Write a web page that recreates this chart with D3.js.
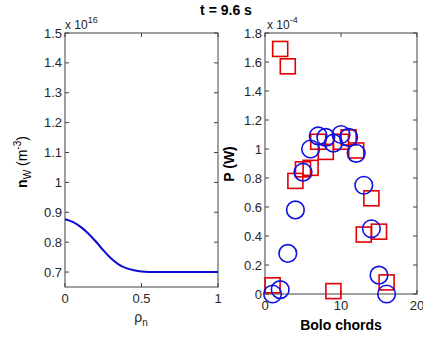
<!DOCTYPE html>
<html><head><meta charset="utf-8">
<script src="https://cdn.jsdelivr.net/npm/d3@7"></script>
<style>body{margin:0;background:#fff}svg{display:block}</style>
</head><body><svg id="c" width="423" height="337"></svg>
<script>
const rho = [0,0.05,0.1,0.15,0.2,0.25,0.3,0.35,0.4,0.45,0.5,0.6,0.7,0.8,0.9,1.0];
const nW = [0.877,0.868,0.852,0.83,0.803,0.773,0.746,0.726,0.713,0.706,0.702,0.700,0.700,0.700,0.700,0.700];
const chords = [1,2,3,4,5,6,7,8,9,10,11,12,13,14,15,16];
const pMeasured = [0.00,0.03,0.28,0.58,0.84,1.00,1.09,1.08,1.04,1.10,1.08,0.97,0.75,0.45,0.13,0.00];
const pModel = [0.06,1.69,1.57,0.78,0.86,0.87,1.05,0.98,0.02,1.05,1.08,0.99,0.41,0.66,0.43,0.08];
const leftYTicks = [0.7,0.8,0.9,1,1.1,1.2,1.3,1.4,1.5];
const leftXTicks = [0,0.5,1];
const rightYTicks = [0,0.2,0.4,0.6,0.8,1,1.2,1.4,1.6,1.8];
const rightXTicks = [0,10,20];

const svg = d3.select("#c");
const font = "Arial, 'Liberation Sans', sans-serif";
const tc = "#262626";

function axesBox(g, x, y, xt, yt, fmtY){
  const [x0,x1]=x.range(), [y0,y1]=y.range();
  g.append("rect").attr("x",x0).attr("y",y1).attr("width",x1-x0).attr("height",y0-y1)
    .attr("fill","none").attr("stroke","#404040").attr("stroke-width",1);
  const tl=4;
  xt.forEach(v=>{
    const px=x(v);
    g.append("line").attr("x1",px).attr("x2",px).attr("y1",y0).attr("y2",y0-tl).attr("stroke","#404040");
    g.append("line").attr("x1",px).attr("x2",px).attr("y1",y1).attr("y2",y1+tl).attr("stroke","#404040");
    g.append("text").attr("x",px).attr("y",y0+16).attr("text-anchor","middle")
      .attr("font-family",font).attr("font-size",13).attr("fill",tc).text(d3.format("~g")(v));
  });
  yt.forEach(v=>{
    const py=y(v);
    g.append("line").attr("x1",x0).attr("x2",x0+tl).attr("y1",py).attr("y2",py).attr("stroke","#404040");
    g.append("line").attr("x1",x1).attr("x2",x1-tl).attr("y1",py).attr("y2",py).attr("stroke","#404040");
    g.append("text").attr("x",x0-3).attr("y",py+4.5).attr("text-anchor","end")
      .attr("font-family",font).attr("font-size",13).attr("fill",tc).text(fmtY(v));
  });
}

// Left panel
const xL = d3.scaleLinear().domain([0,1]).range([65,218]);
const yL = d3.scaleLinear().domain([0.65,1.5]).range([287,33]);
const gL = svg.append("g");
axesBox(gL, xL, yL, leftXTicks, leftYTicks, d3.format("~g"));
gL.append("path").datum(rho.map((r,i)=>[r,nW[i]]))
  .attr("d", d3.line().x(d=>xL(d[0])).y(d=>yL(d[1])).curve(d3.curveMonotoneX))
  .attr("fill","none").attr("stroke","#0a0ad0").attr("stroke-width",2);
const m1 = gL.append("text").attr("x",65).attr("y",29).attr("font-family",font).attr("font-size",12).attr("fill",tc);
m1.append("tspan").text("x 10");
m1.append("tspan").attr("dy",-6).attr("font-size",9).text("16");
const lyL = gL.append("text").attr("transform","translate(27,162) rotate(-90)").attr("text-anchor","middle")
  .attr("font-family",font).attr("font-size",14).attr("fill","#000");
lyL.append("tspan").attr("font-weight","bold").text("n");
lyL.append("tspan").attr("dy",4).attr("font-size",10).text("W");
lyL.append("tspan").attr("dy",-4).text(" (m");
lyL.append("tspan").attr("dy",-6).attr("font-size",10).text("-3");
lyL.append("tspan").attr("dy",6).text(")");
const lxL = gL.append("text").attr("x",141).attr("y",322).attr("text-anchor","middle")
  .attr("font-family",font).attr("font-size",14).attr("fill",tc);
lxL.append("tspan").text("ρ");
lxL.append("tspan").attr("dy",4).attr("font-size",10).text("n");

// Right panel
const xR = d3.scaleLinear().domain([0,20]).range([265,417]);
const yR = d3.scaleLinear().domain([0,1.8]).range([294,33]);
const gR = svg.append("g");
axesBox(gR, xR, yR, rightXTicks, rightYTicks, d3.format("~g"));
const sq=15;
gR.selectAll("rect.m").data(chords).enter().append("rect").attr("class","m")
  .attr("x",(d,i)=>xR(d)-sq/2).attr("y",(d,i)=>yR(pModel[i])-sq/2)
  .attr("width",sq).attr("height",sq).attr("fill","none").attr("stroke","#e00000").attr("stroke-width",1.6);
gR.selectAll("circle.m").data(chords).enter().append("circle").attr("class","m")
  .attr("cx",d=>xR(d)).attr("cy",(d,i)=>yR(pMeasured[i])).attr("r",8.8)
  .attr("fill","none").attr("stroke","#1010e0").attr("stroke-width",1.6);
const m2 = gR.append("text").attr("x",267).attr("y",29).attr("font-family",font).attr("font-size",12).attr("fill",tc);
m2.append("tspan").text("x 10");
m2.append("tspan").attr("dy",-6).attr("font-size",9).text("-4");
svg.append("text").attr("transform","translate(234,164) rotate(-90)").attr("text-anchor","middle")
  .attr("font-family",font).attr("font-size",14).attr("font-weight","bold").attr("fill","#000").text("P (W)");
svg.append("text").attr("x",341).attr("y",330).attr("text-anchor","middle")
  .attr("font-family",font).attr("font-size",14).attr("font-weight","bold").attr("fill","#000").text("Bolo chords");

svg.append("text").attr("x",226).attr("y",15).attr("text-anchor","middle")
  .attr("font-family",font).attr("font-size",14).attr("font-weight","bold").attr("fill","#000").text("t = 9.6 s");
</script></body></html>
